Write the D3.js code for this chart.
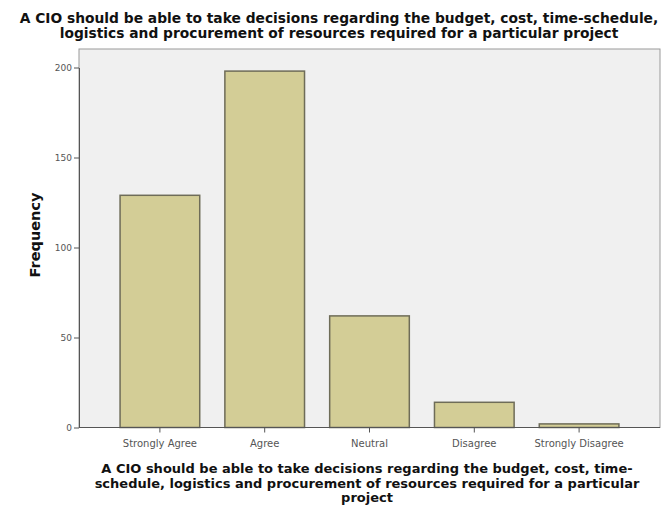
<!DOCTYPE html>
<html><head><meta charset="utf-8">
<script src="https://cdn.jsdelivr.net/npm/d3@7"></script>
<style>body{margin:0;background:#fff}</style>
</head><body>
<svg id="c" width="670" height="509"></svg>
<script>
const categories = ["Strongly Agree","Agree","Neutral","Disagree","Strongly Disagree"];
const frequencies = [129, 198, 62, 14, 2];
const yTicks = [0, 50, 100, 150, 200];
const titleLines = ["A CIO should be able to take decisions regarding the budget, cost, time-schedule,",
  "logistics and procurement of resources required for a particular project"];
const xTitleLines = ["A CIO should be able to take decisions regarding the budget, cost, time-",
  "schedule, logistics and procurement of resources required for a particular",
  "project"];
const yTitle = "Frequency";

const svg = d3.select("#c");
const L = 79, R = 660, T = 49, B = 427.5;
const boldFont = "'DejaVu Sans', Verdana, sans-serif";
const tickFont = "'DejaVu Sans', Verdana, sans-serif";

svg.append("rect").attr("x", L).attr("y", T).attr("width", R - L).attr("height", B - T)
  .attr("fill", "#f0f0f0").attr("stroke", "#9a9a9a").attr("stroke-width", 1);

const x = d3.scaleBand().domain(categories).range([107.5, 631.5]).paddingInner(0.24).paddingOuter(0.12);
const y = d3.scaleLinear().domain([0, 200]).range([B, 67.5]);

svg.append("g").selectAll("rect").data(frequencies).join("rect")
  .attr("x", (d, i) => x(categories[i]))
  .attr("y", d => y(d))
  .attr("width", x.bandwidth())
  .attr("height", d => B - y(d))
  .attr("fill", "#d3cd96").attr("stroke", "#6e6c58").attr("stroke-width", 1.5);

const yAxis = svg.append("g").attr("transform", `translate(${L},0)`)
  .call(d3.axisLeft(y).tickValues(yTicks).tickSize(5).tickSizeOuter(0).tickPadding(2));
yAxis.select(".domain").attr("stroke", "#555");
yAxis.selectAll(".tick line").attr("stroke", "#555");
yAxis.selectAll("text").attr("font-family", tickFont).attr("font-size", 9).attr("fill", "#555");

const xAxis = svg.append("g").attr("transform", `translate(0,${B})`)
  .call(d3.axisBottom(x).tickSize(5).tickSizeOuter(0));
xAxis.select(".domain").attr("d", `M${L},0H${R}`).attr("stroke", "#555");
xAxis.selectAll(".tick line").attr("stroke", "#555");
xAxis.selectAll("text").attr("font-family", tickFont).attr("font-size", 10).attr("fill", "#555").attr("dy", "1.1em");

svg.append("g").selectAll("text").data(titleLines).join("text")
  .attr("x", 339).attr("y", (d, i) => 23 + i * 15)
  .attr("text-anchor", "middle").attr("font-family", boldFont).attr("font-weight", "bold")
  .attr("font-size", 13.8).attr("fill", "#111").text(d => d);

svg.append("g").selectAll("text").data(xTitleLines).join("text")
  .attr("x", 367).attr("y", (d, i) => 473 + i * 14.5)
  .attr("text-anchor", "middle").attr("font-family", boldFont).attr("font-weight", "bold")
  .attr("font-size", 13).attr("fill", "#111").text(d => d);

svg.append("text").attr("transform", `translate(40,235) rotate(-90)`)
  .attr("text-anchor", "middle").attr("font-family", boldFont).attr("font-weight", "bold")
  .attr("font-size", 14.5).attr("fill", "#111").text(yTitle);
</script>
</body></html>
